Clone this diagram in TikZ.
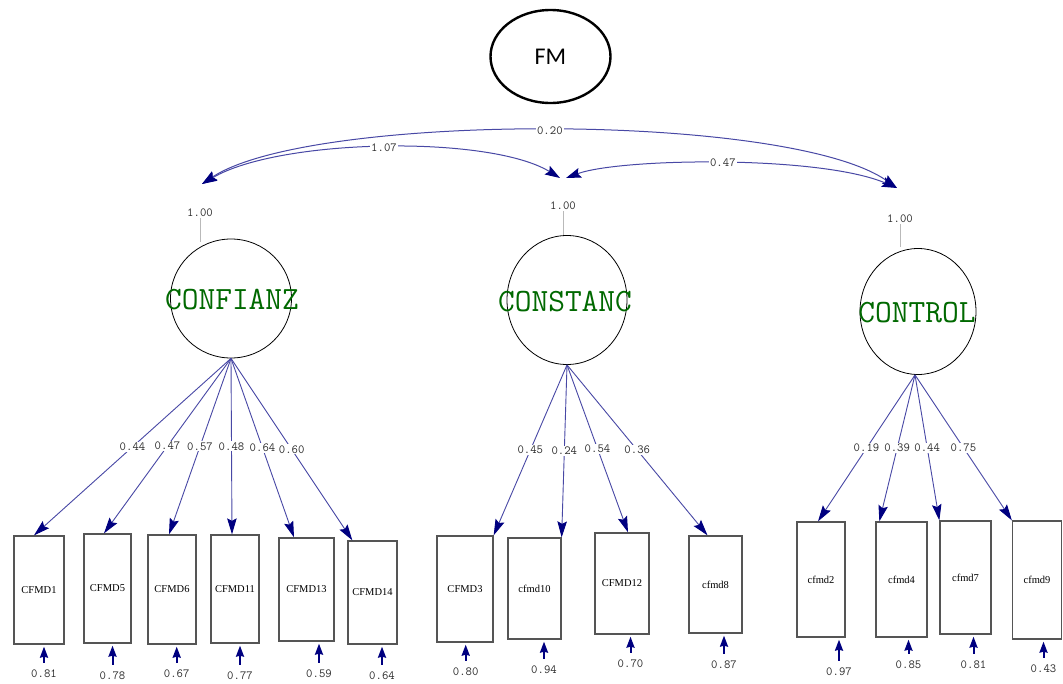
\documentclass[tikz,border=0pt]{standalone}
\usepackage{fontspec}
\setmainfont{Liberation Serif}
\newfontfamily\fmfont{Carlito}
\usetikzlibrary{arrows.meta,shapes.geometric,calc}
\definecolor{lineblue}{RGB}{72,72,165}
\definecolor{headblue}{RGB}{0,0,128}
\definecolor{latgreen}{RGB}{0,105,0}
\definecolor{numgray}{RGB}{45,45,45}
\definecolor{boxgray}{RGB}{85,85,85}
\definecolor{vargray}{RGB}{185,185,185}
\begin{document}
\begin{tikzpicture}[x=1pt,y=-1pt,
  latent/.style={ellipse,draw=black,line width=0.8pt,inner sep=0pt},
  latlabel/.style={font=\ttfamily\fontsize{32.5}{33}\selectfont,text=latgreen,inner sep=0pt},
  obs/.style={rectangle,draw=boxgray,line width=1.3pt,inner sep=0pt,font=\fontsize{10.5}{11}\selectfont},
  num/.style={font=\ttfamily\fontsize{12.4}{13}\selectfont,text=numgray,inner sep=1pt},
  numw/.style={num,fill=white},
  load/.style={draw=lineblue,line width=0.9pt,-{Stealth[length=16pt,width=9.5pt,inset=2.5pt,color=headblue]}},
  cov/.style={draw=lineblue,line width=1pt,{Stealth[length=15pt,width=10pt,inset=2.5pt,color=headblue]}-{Stealth[length=15pt,width=10pt,inset=2.5pt,color=headblue]}},
  resid/.style={draw=headblue,line width=2pt,-{Stealth[length=11pt,width=8pt,inset=1pt]}},
  varline/.style={draw=vargray,line width=0.8pt}
]
\useasboundingbox[fill=white] (0,0) rectangle (1063,683);

% FM
\node[draw,ellipse,line width=2.4pt,minimum width=120pt,minimum height=93pt,inner sep=0pt,
      font=\fmfont\fontsize{24}{24}\selectfont] (fm) at (550.5,56.5) {FM};

% covariances
\coordinate (cL) at (202,184);
\coordinate (cM1) at (560,178);
\coordinate (cM2) at (566,178);
\coordinate (cR) at (897,188);
\draw[cov] (cL) .. controls (310,112) and (790,112) .. node[numw]{0.20} (cR);
\draw[cov] (cL) .. controls (280,138) and (490,135) .. node[numw]{1.07} (cM1);
\draw[cov] (cM2) .. controls (620,158) and (820,155) .. node[numw]{0.47} (cR);

% latent variables
\node[latent,minimum width=121pt,minimum height=119pt] (f1) at (231,298.5) {};
\node[latent,minimum width=120pt,minimum height=129pt] (f2) at (567,300) {};
\node[latent,minimum width=116pt,minimum height=126pt] (f3) at (918,311.5) {};
\node[latlabel] (t1) at (232,300) {CONFIANZ};
\node[latlabel] (t2) at (565,302) {CONSTANC};
\node[latlabel] (t3) at (917,312.5) {CONTROL};

% variances of latent variables
\node[num] (v1) at (200,213) {1.00};
\node[num] (v2) at (563,206) {1.00};
\node[num] (v3) at (900,219) {1.00};
\draw[varline] (v1.south) -- ($(v1.south |- f1.north)+(0,3)$);
\draw[varline] (v2.south) -- (v2.south |- f2.north);
\draw[varline] (v3.south) -- ($(v3.south |- f3.north)+(0,-1)$);

% observed variables
\node[obs,minimum width=50pt,minimum height=108pt] (b1) at (39,590) {CFMD1};
\node[obs,minimum width=47pt,minimum height=109pt] (b2) at (107.5,588.5) {CFMD5};
\node[obs,minimum width=48pt,minimum height=109pt] (b3) at (172,589.5) {CFMD6};
\node[obs,minimum width=48pt,minimum height=108pt] (b4) at (235,589) {CFMD11};
\node[obs,minimum width=55pt,minimum height=103pt] (b5) at (306.5,589.5) {CFMD13};
\node[obs,minimum width=49pt,minimum height=103pt] (b6) at (372.5,592.5) {CFMD14};
\node[obs,minimum width=56pt,minimum height=106pt] (b7) at (465,589) {CFMD3};
\node[obs,minimum width=53pt,minimum height=101pt] (b8) at (534.5,588.5) {cfmd10};
\node[obs,minimum width=54pt,minimum height=101pt] (b9) at (622,583.5) {CFMD12};
\node[obs,minimum width=53pt,minimum height=97pt] (b10) at (715.5,584.5) {cfmd8};
\node[obs,minimum width=48pt,minimum height=115pt] (b11) at (821,579.5) {cfmd2};
\node[obs,minimum width=51pt,minimum height=115pt] (b12) at (901.5,579.5) {cfmd4};
\node[obs,minimum width=51pt,minimum height=113pt] (b13) at (965.5,577.5) {cfmd7};
\node[obs,minimum width=49pt,minimum height=118pt] (b14) at (1037,580) {cfmd9};

% loadings
\draw[load] (f1.south) -- node[numw]{0.44} ($(b1.north)+(-5,0)$);
\draw[load] (f1.south) -- node[numw]{0.47} ($(b2.north)+(-3.5,0)$);
\draw[load] (f1.south) -- node[numw]{0.57} ($(b3.north)+(-3,0)$);
\draw[load] (f1.south) -- node[numw]{0.48} ($(b4.north)+(-3,0)$);
\draw[load] (f1.south) -- node[numw]{0.64} ($(b5.north)+(-12.5,0)$);
\draw[load] (f1.south) -- node[numw]{0.60} ($(b6.north west)+(5,0)$);
\draw[load] (f2.south) -- node[numw]{0.45} (b7.north east);
\draw[load] (f2.south) -- node[numw]{0.24} (b8.north east);
\draw[load] (f2.south) -- node[numw]{0.54} ($(b9.north)+(6,0)$);
\draw[load] (f2.south) -- node[numw]{0.36} ($(b10.north)+(-8,0)$);
\draw[load] ($(f3.south)+(-3,0)$) -- node[numw]{0.19} ($(b11.north)+(-3,0)$);
\draw[load] ($(f3.south)+(-3,0)$) -- node[numw]{0.39} ($(b12.north west)+(4,0)$);
\draw[load] ($(f3.south)+(-3,0)$) -- node[numw]{0.44} (b13.north west);
\draw[load] ($(f3.south)+(-3,0)$) -- node[numw]{0.75} (b14.north west);

% residual variances
\node[num] (r1) at (44,674) {0.81};
\node[num] (r2) at (112.5,676) {0.78};
\node[num] (r3) at (176.7,674) {0.67};
\node[num] (r4) at (240,676) {0.77};
\node[num] (r5) at (319,674) {0.59};
\node[num] (r6) at (382,676) {0.64};
\node[num] (r7) at (465.7,672) {0.80};
\node[num] (r8) at (544,670) {0.94};
\node[num] (r9) at (630.5,664) {0.70};
\node[num] (r10) at (724,665) {0.87};
\node[num] (r11) at (839,672) {0.97};
\node[num] (r12) at (908.5,665) {0.85};
\node[num] (r13) at (973.5,665) {0.81};
\node[num] (r14) at (1043.5,669) {0.43};
\foreach \i in {1,...,14}{
  \draw[resid] ($(r\i.north)+(0,-6)$) -- ($(r\i.north |- b\i.south)+(0,2)$);
}
\end{tikzpicture}
\end{document}
